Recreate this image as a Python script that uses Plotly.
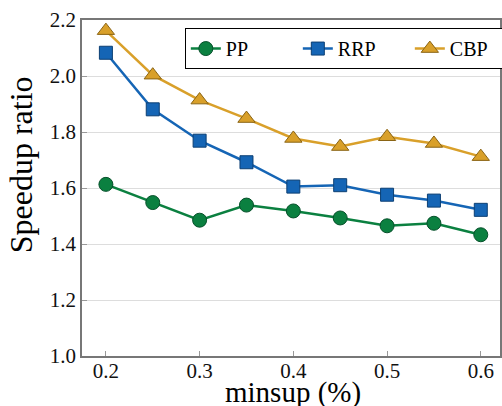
import plotly.graph_objects as go

minsup = [0.2, 0.25, 0.3, 0.35, 0.4, 0.45, 0.5, 0.55, 0.6]
pp = [1.613, 1.548, 1.485, 1.539, 1.518, 1.493, 1.465, 1.474, 1.433]
rrp = [2.083, 1.881, 1.769, 1.692, 1.605, 1.610, 1.576, 1.555, 1.522]
cbp = [2.162, 2.003, 1.914, 1.848, 1.777, 1.748, 1.783, 1.759, 1.712]
yticks = [1.0, 1.2, 1.4, 1.6, 1.8, 2.0, 2.2]
xticks = [0.2, 0.3, 0.4, 0.5, 0.6]

FONT = "Liberation Serif"
fig = go.Figure()
series = [
    ("PP", pp, "#0b8040", "#06502a", "circle", 14),
    ("RRP", rrp, "#1565b5", "#0c3f73", "square", 13),
    ("CBP", cbp, "#d9a02a", "#8a6414", "triangle-up", 15),
]
for name, vals, col, edge, sym, sz in series:
    fig.add_trace(go.Scatter(
        x=minsup, y=vals, name=name, mode="lines+markers",
        line=dict(color=col, width=2.5),
        marker=dict(symbol=sym, size=sz, color=col, line=dict(color=edge, width=1)),
    ))

fig.update_layout(
    width=502, height=406,
    margin=dict(l=82, r=2, t=20, b=50, autoexpand=False),
    plot_bgcolor="white", paper_bgcolor="white",
    font=dict(family=FONT, color="black"),
    showlegend=True,
    legend=dict(
        orientation="h", x=0.246, y=0.976, xanchor="left", yanchor="top",
        bgcolor="white", bordercolor="black", borderwidth=1,
        font=dict(family=FONT, size=20), entrywidth=67, entrywidthmode="pixels",
        tracegroupgap=0,
    ),
    xaxis=dict(
        range=[0.1745, 0.6205], tickvals=xticks,
        ticktext=[f"{v:.1f}" for v in xticks],
        showgrid=False, zeroline=False,
        showline=True, linecolor="#777", linewidth=1.5, mirror=True,
        ticks="inside", ticklen=5, tickcolor="#999",
        tickfont=dict(family=FONT, size=21, color="#111"), ticklabelstandoff=-5,
    ),
    yaxis=dict(
        range=[1.0, 2.2], tickvals=yticks,
        ticktext=[f"{v:.1f}" for v in yticks],
        showgrid=True, gridcolor="#dddddd", gridwidth=1, zeroline=False,
        showline=True, linecolor="#777", linewidth=1.5, mirror=True,
        ticks="inside", ticklen=5, tickcolor="#999",
        tickfont=dict(family=FONT, size=21, color="#111"),
    ),
    annotations=[
        dict(text="minsup (%)", xref="paper", yref="paper", x=0.505, y=-0.108,
             xanchor="center", yanchor="middle", showarrow=False,
             font=dict(family=FONT, size=29)),
        dict(text="Speedup ratio", xref="paper", yref="paper",
             x=-0.144, y=0.57, xanchor="center", yanchor="middle",
             textangle=-90, showarrow=False, font=dict(family=FONT, size=32)),
    ],
)
fig.write_html("out.html", config={"displayModeBar": False},
               post_script="document.body.style.margin='0';")
